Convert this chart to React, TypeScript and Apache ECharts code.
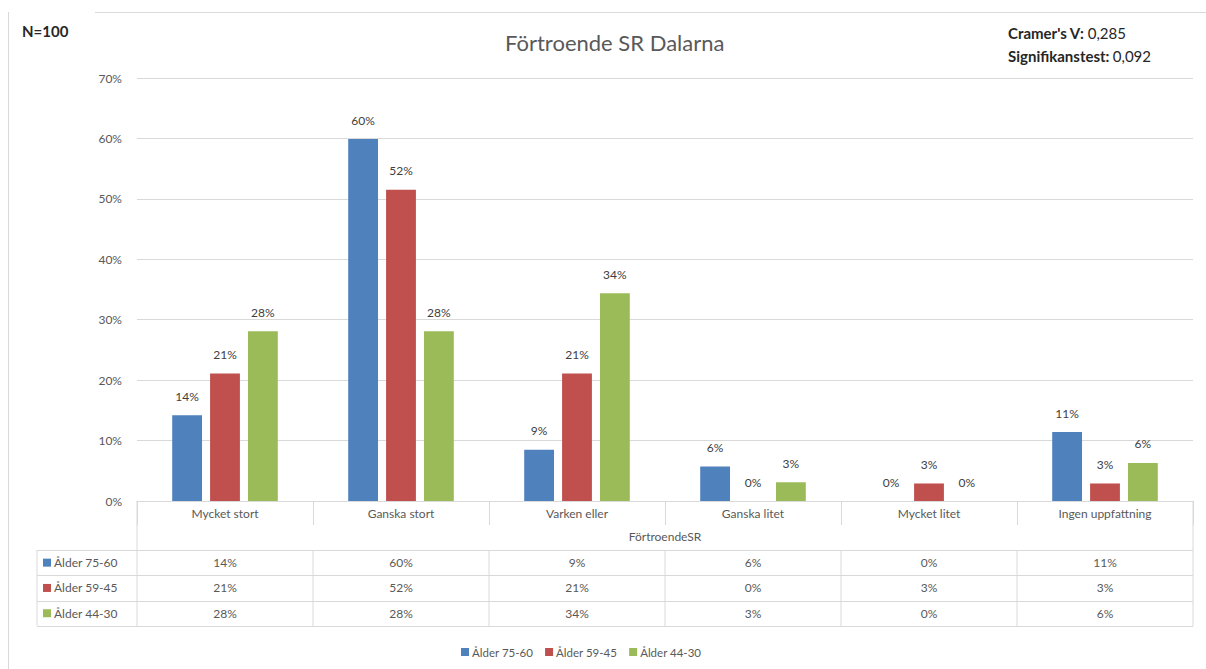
import React, { useEffect, useRef } from "react";
import * as echarts from "echarts";

const categories = ["Mycket stort", "Ganska stort", "Varken eller", "Ganska litet", "Mycket litet", "Ingen uppfattning"];
const seriesNames = ["Ålder 75-60", "Ålder 59-45", "Ålder 44-30"];
const age7560 = [14.2, 59.9, 8.5, 5.7, 0, 11.4];
const age5945 = [21.1, 51.5, 21.1, 0, 2.9, 2.9];
const age4430 = [28.1, 28.1, 34.4, 3.1, 0, 6.3];
const yTicks = [0, 10, 20, 30, 40, 50, 60, 70];
const axisTitle = "FörtroendeSR";
const chartTitle = "Förtroende SR Dalarna";
const sampleNote = "N=100";
const cramersV = "0,285";
const signif = "0,092";

const colors = ["#4F81BD", "#C0504D", "#9BBB59"];
const FONT = "Lato, 'Open Sans', sans-serif";
const TXT = "#595959";
const LINE = "#d9d9d9";

export default function App() {
  const ref = useRef<HTMLDivElement>(null);
  useEffect(() => {
    if (!ref.current) return;
    const chart = echarts.init(ref.current, null, { renderer: "svg" });
    const allSeries = [age7560, age5945, age4430];
    const fmt = (v: number) => Math.round(v) + "%";
    chart.setOption({
      animation: false,
      textStyle: { fontFamily: FONT },
      title: {
        text: chartTitle,
        left: 500,
        top: 26,
        textStyle: { fontFamily: FONT, fontSize: 22, fontWeight: "normal", color: TXT },
      },
      legend: {
        data: seriesNames,
        left: 456,
        top: 641,
        itemWidth: 8,
        itemHeight: 8,
        itemGap: 12,
        icon: "rect",
        textStyle: { fontFamily: FONT, fontSize: 11.5, color: TXT, padding: [0, 0, 0, -2] },
      },
      grid: { left: 137, right: 13, top: 78, bottom: 168 },
      xAxis: {
        type: "category",
        data: categories,
        axisLine: { show: true, lineStyle: { color: LINE } },
        axisTick: { show: true, length: 24, lineStyle: { color: LINE } },
        axisLabel: { margin: 6, fontSize: 12, color: TXT, fontFamily: FONT },
      },
      yAxis: {
        type: "value",
        min: yTicks[0],
        max: yTicks[yTicks.length - 1],
        interval: 10,
        axisLine: { show: false },
        axisTick: { show: false },
        splitLine: { lineStyle: { color: LINE } },
        axisLabel: { formatter: "{value}%", margin: 15, fontSize: 12, color: TXT, fontFamily: FONT },
      },
      series: allSeries.map((d, i) => ({
        name: seriesNames[i],
        type: "bar",
        data: d,
        barGap: "27%",
        barCategoryGap: "40%",
        itemStyle: { color: colors[i] },
        label: {
          show: true,
          position: "top",
          distance: 13,
          formatter: (p: any) => fmt(p.value),
          fontSize: 12,
          color: "#404040",
          fontFamily: FONT,
        },
      })),
    });

    // Build data table from axis scales
    const c0 = chart.convertToPixel({ xAxisIndex: 0 }, categories[0]) as number;
    const c1 = chart.convertToPixel({ xAxisIndex: 0 }, categories[1]) as number;
    const band = c1 - c0;
    const xLeft = c0 - band / 2;
    const xRight = xLeft + band * categories.length;
    const yBase = chart.convertToPixel({ yAxisIndex: 0 }, 0) as number;
    const headerH = 49;
    const rowH = 25.3;
    const tableLeft = 37;
    const rowsTop = yBase + headerH;
    const rowsBottom = rowsTop + rowH * seriesNames.length;
    const ls = { stroke: LINE, lineWidth: 1 };
    const g: any[] = [];
    // frame lines of the screenshot
    g.push({ type: "line", shape: { x1: 95, y1: 12.5, x2: 1206, y2: 12.5 }, style: { stroke: "#d9d9d9", lineWidth: 1 } });
    g.push({ type: "line", shape: { x1: 8.5, y1: 12, x2: 8.5, y2: 669 }, style: { stroke: "#d9d9d9", lineWidth: 1 } });
    // header box
    g.push({ type: "line", shape: { x1: xLeft, y1: yBase, x2: xLeft, y2: rowsBottom }, style: ls });
    g.push({ type: "line", shape: { x1: xRight, y1: yBase, x2: xRight, y2: rowsBottom }, style: ls });
    g.push({ type: "line", shape: { x1: tableLeft, y1: rowsTop, x2: tableLeft, y2: rowsBottom }, style: ls });
    for (let r = 0; r <= seriesNames.length; r++) {
      const y = Math.round(rowsTop + r * rowH) + 0.5;
      g.push({ type: "line", shape: { x1: tableLeft, y1: y, x2: xRight, y2: y }, style: ls });
    }
    for (let c = 1; c < categories.length; c++) {
      const x = xLeft + c * band;
      g.push({ type: "line", shape: { x1: x, y1: rowsTop, x2: x, y2: rowsBottom }, style: ls });
    }
    g.push({
      type: "text",
      x: (xLeft + xRight) / 2,
      y: yBase + 35,
      style: { text: axisTitle, fill: TXT, font: `12px ${FONT}`, textAlign: "center", textVerticalAlign: "middle" },
    });
    seriesNames.forEach((name, r) => {
      const yc = rowsTop + r * rowH + rowH / 2;
      g.push({ type: "rect", shape: { x: 43, y: yc - 4, width: 8, height: 8 }, style: { fill: colors[r] } });
      g.push({
        type: "text",
        x: 54,
        y: yc,
        style: { text: name, fill: TXT, font: `12px ${FONT}`, textAlign: "left", textVerticalAlign: "middle" },
      });
      allSeries[r].forEach((v, c) => {
        const xc = chart.convertToPixel({ xAxisIndex: 0 }, categories[c]) as number;
        g.push({
          type: "text",
          x: xc,
          y: yc,
          style: { text: fmt(v), fill: TXT, font: `12px ${FONT}`, textAlign: "center", textVerticalAlign: "middle" },
        });
      });
    });
    // annotations
    g.push({
      type: "text",
      x: 22,
      y: 31,
      style: { text: sampleNote, fill: "#262626", font: `bold 15px ${FONT}`, textVerticalAlign: "middle" },
    });
    g.push({
      type: "text",
      x: 1008,
      y: 33,
      style: {
        text: "{b|Cramer's V:} {n|" + cramersV + "}",
        rich: {
          b: { fontWeight: "bold", fontSize: 15, fill: "#262626", fontFamily: FONT },
          n: { fontSize: 15, fill: "#262626", fontFamily: FONT },
        },
        textVerticalAlign: "middle",
      },
    });
    g.push({
      type: "text",
      x: 1008,
      y: 56,
      style: {
        text: "{b|Signifikanstest:} {n|" + signif + "}",
        rich: {
          b: { fontWeight: "bold", fontSize: 15, fill: "#262626", fontFamily: FONT },
          n: { fontSize: 15, fill: "#262626", fontFamily: FONT },
        },
        textVerticalAlign: "middle",
      },
    });
    chart.setOption({ graphic: g });
    return () => chart.dispose();
  }, []);
  return <div ref={ref} style={{ position: "fixed", left: 0, top: 0, width: 1206, height: 669, background: "#fff" }} />;
}
